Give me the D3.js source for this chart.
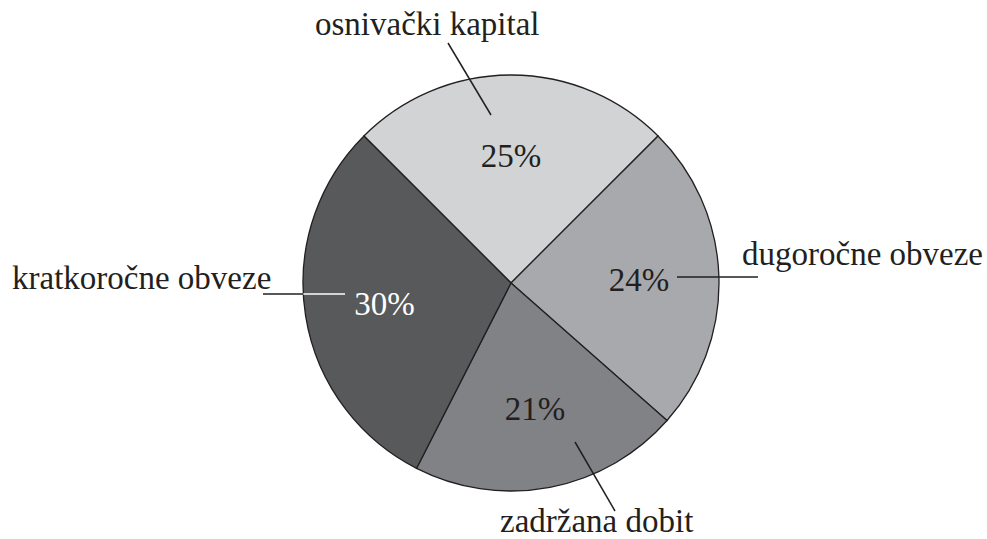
<!DOCTYPE html>
<html>
<head>
<meta charset="utf-8">
<script src="https://cdn.jsdelivr.net/npm/d3@7"></script>
<style>
  body { margin: 0; background: #fff; }
  text { font-family: "Liberation Serif", "Times New Roman", serif; font-size: 33px; fill: #231f20; }
</style>
</head>
<body>
<div id="chart"></div>
<script>
// data
var categories = ["osnivački kapital", "dugoročne obveze", "zadržana dobit", "kratkoročne obveze"];
var shares = [25, 24, 21, 30];
var sliceColors = ["#d1d3d4", "#a7a9ac", "#808285", "#58595b"];
var pctColors = ["#231f20", "#231f20", "#231f20", "#ffffff"];

var svgWidth = 987;
var svgHeight = 539;
var cx = 511, cy = 283, radius = 208;

var svg = d3.select("#chart")
  .append("svg")
  .attr("width", svgWidth)
  .attr("height", svgHeight);

var g = svg.append("g")
  .attr("transform", `translate(${cx}, ${cy})`);

var pie = d3.pie()
  .sort(null)
  .startAngle(-Math.PI / 4)
  .endAngle(2 * Math.PI - Math.PI / 4);

var arcs = pie(shares);

var arc = d3.arc().innerRadius(0).outerRadius(radius);
var labelArc = d3.arc().innerRadius(128).outerRadius(128);

// slices
g.selectAll("path.slice")
  .data(arcs)
  .enter()
  .append("path")
  .attr("class", "slice")
  .attr("d", arc)
  .attr("fill", (d, i) => sliceColors[i])
  .attr("stroke", "#231f20")
  .attr("stroke-width", 1.3);

// percent labels
g.selectAll("text.pct")
  .data(arcs)
  .enter()
  .append("text")
  .attr("class", "pct")
  .attr("transform", d => `translate(${labelArc.centroid(d)})`)
  .attr("text-anchor", "middle")
  .attr("dy", "0.35em")
  .style("fill", (d, i) => pctColors[i])
  .text(d => d.data + "%");

// outer labels + leader lines (relative to the pie centre)
var callouts = [
  { text: [-196, -248], anchor: "start", line: [[-63, -240], [-20, -168]] },
  { text: [231, -18], anchor: "start", line: [[166, -6], [247, -6]] },
  { text: [-11, 249], anchor: "start", line: [[64, 159], [104, 228]] },
  { text: [-499, 6], anchor: "start", line: [[-248, 11], [-166, 11]] }
];

callouts.forEach(function (c, i) {
  var a = c.line[0], b = c.line[1];
  if (i === 3) {
    // black outside the circle, white inside
    var edgeX = -Math.sqrt(radius * radius - a[1] * a[1]);
    g.append("line")
      .attr("x1", a[0]).attr("y1", a[1]).attr("x2", edgeX).attr("y2", a[1])
      .attr("stroke", "#231f20").attr("stroke-width", 1.5);
    g.append("line")
      .attr("x1", edgeX).attr("y1", a[1]).attr("x2", b[0]).attr("y2", b[1])
      .attr("stroke", "#ffffff").attr("stroke-width", 1.5);
  } else {
    g.append("line")
      .attr("x1", a[0]).attr("y1", a[1]).attr("x2", b[0]).attr("y2", b[1])
      .attr("stroke", "#231f20").attr("stroke-width", 1.5);
  }
  g.append("text")
    .attr("x", c.text[0])
    .attr("y", c.text[1])
    .attr("text-anchor", c.anchor)
    .text(categories[i]);
});
</script>
</body>
</html>
